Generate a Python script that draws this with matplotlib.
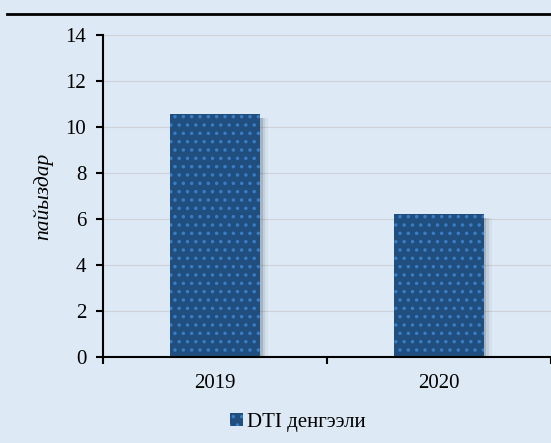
import matplotlib
matplotlib.use("Agg")
import matplotlib.pyplot as plt
from matplotlib.lines import Line2D
from matplotlib.patches import Patch

categories = ["2019", "2020"]
values = [10.55, 6.2]
yticks = [0, 2, 4, 6, 8, 10, 12, 14]
series_name = "DTI денгээли"
ylabel = "пайызд\u0430р"

bg = "#dde9f5"
bar_color = "#1f4e7f"
dot_color = "#3b7dc4"

plt.rcParams["font.family"] = ["Liberation Serif", "DejaVu Serif"]
plt.rcParams["hatch.color"] = dot_color
plt.rcParams["hatch.linewidth"] = 1.3

fig = plt.figure(figsize=(5.51, 4.43), dpi=100, facecolor=bg)
ax = fig.add_axes([0.187, 0.194, 0.813, 0.727], facecolor=bg)

x = list(range(len(categories)))
width = 0.4

# soft shadow behind the bars
for dx, a in [(0.012, 0.18), (0.024, 0.10), (0.036, 0.05)]:
    ax.bar([xi + dx for xi in x], [v - 0.08 for v in values], width=width,
           bottom=-0.08, color="#2a3a4a", alpha=a, linewidth=0, zorder=1.5)

bars = ax.bar(x, values, width=width, color=bar_color, edgecolor=dot_color,
              linewidth=0, hatch="..", zorder=2)

ax.set_xlim(-0.5, 1.5)
ax.set_ylim(0, 14)
ax.set_yticks(yticks)
ax.set_xticks([-0.5, 0.5, 1.5], minor=False)
ax.set_xticklabels(["", "", ""])
ax.set_xticks(x, minor=True)
ax.set_xticklabels(categories, minor=True)
ax.tick_params(axis="x", which="minor", length=0, pad=12, labelsize=15)
ax.tick_params(axis="x", which="major", length=5, width=1.5, direction="out")
ax.tick_params(axis="y", length=5, width=1.5, direction="out", labelsize=15, pad=7)

ax.grid(axis="y", color="#ccd2d8", linewidth=0.8, zorder=0)
ax.set_axisbelow(True)

for s in ["top", "right"]:
    ax.spines[s].set_visible(False)
ax.spines["left"].set_linewidth(1.5)
ax.spines["bottom"].set_linewidth(1.5)

ax.set_ylabel(ylabel, fontsize=15.5, style="italic", labelpad=9)

handle = Patch(facecolor=bar_color, edgecolor=dot_color, hatch="..", linewidth=0)
fig.legend([handle], [series_name], loc="center", bbox_to_anchor=(0.54, 0.047),
           frameon=False, fontsize=15, handlelength=0.65, handleheight=0.65,
           handletextpad=0.15)

fig.add_artist(Line2D([7 / 551, 1.0], [1 - 14 / 443, 1 - 14 / 443],
                      color="black", linewidth=2, transform=fig.transFigure))

fig.savefig("out.png", dpi=100, facecolor=bg)
